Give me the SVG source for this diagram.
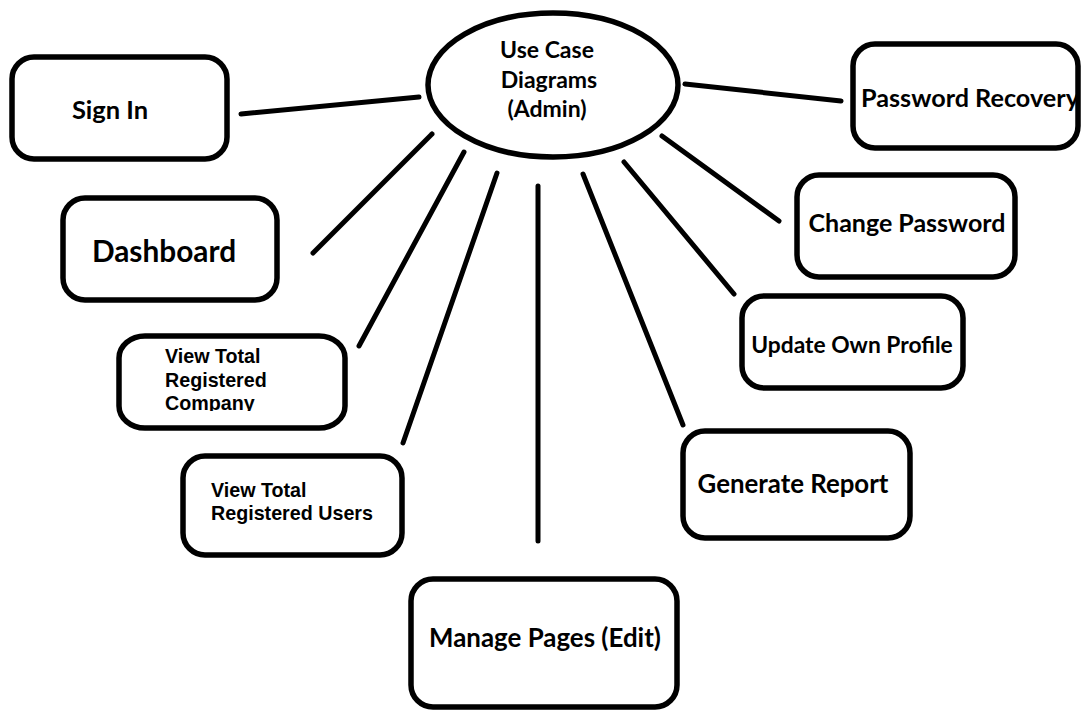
<svg xmlns="http://www.w3.org/2000/svg" width="1081" height="711" viewBox="0 0 1081 711">
<style>
.box{fill:#fff;stroke:#000;stroke-width:5.5}
.ell{fill:#fff;stroke:#000;stroke-width:5.5}
.ln{stroke:#000;stroke-width:5;stroke-linecap:round;fill:none}
.t{font-family:Lato,"Open Sans","Liberation Sans",sans-serif;font-weight:bold;fill:#000;text-anchor:middle}
.a{font-family:"Liberation Sans",Arial,sans-serif;font-weight:bold;font-size:19.7px;fill:#000}
</style>
<defs>
<clipPath id="clipCo"><rect x="120" y="330" width="230" height="81"/></clipPath>
</defs>
<rect width="1081" height="711" fill="#fff"/>
<g id="connectors">
<line class="ln" x1="241" y1="114" x2="419" y2="97"/>
<line class="ln" x1="313" y1="253" x2="432" y2="134"/>
<line class="ln" x1="359" y1="346" x2="464" y2="152"/>
<line class="ln" x1="403" y1="443" x2="497" y2="173"/>
<line class="ln" x1="538" y1="186" x2="538" y2="541"/>
<line class="ln" x1="583" y1="174" x2="683" y2="425"/>
<line class="ln" x1="624" y1="162" x2="734" y2="294"/>
<line class="ln" x1="662" y1="136" x2="779" y2="221"/>
<line class="ln" x1="685" y1="84" x2="841" y2="101"/>
</g>
<g id="center">
<ellipse class="ell" cx="553" cy="85" rx="125" ry="72"/>
<text class="t" font-size="23" x="547" y="58">Use Case</text>
<text class="t" font-size="23" x="549" y="88">Diagrams</text>
<text class="t" font-size="23" x="547" y="117">(Admin)</text>
</g>
<g id="sign-in">
<rect class="box" x="12" y="57" width="215" height="102" rx="22"/>
<text class="t" font-size="25.5" x="110" y="119">Sign In</text>
</g>
<g id="dashboard">
<rect class="box" x="63" y="198" width="214" height="102" rx="22"/>
<text class="t" font-size="29.8" x="164" y="262">Dashboard</text>
</g>
<g id="company">
<rect class="box" x="119" y="336" width="226" height="92" rx="26" ry="22"/>
<g clip-path="url(#clipCo)">
<text class="a" x="165" y="363">View Total</text>
<text class="a" x="165" y="387">Registered</text>
<text class="a" x="165" y="410">Company</text>
</g>
</g>
<g id="users">
<rect class="box" x="183" y="456" width="219" height="99" rx="22"/>
<text class="a" x="211" y="497">View Total</text>
<text class="a" x="211" y="520">Registered Users</text>
</g>
<g id="manage-pages">
<rect class="box" x="411" y="579" width="266" height="128" rx="22"/>
<text class="t" font-size="25.9" x="545" y="647">Manage Pages (Edit)</text>
</g>
<g id="generate-report">
<rect class="box" x="683" y="431" width="227" height="107" rx="22"/>
<text class="t" font-size="25.8" x="793" y="493">Generate Report</text>
</g>
<g id="update-profile">
<rect class="box" x="742" y="296" width="221" height="92" rx="22"/>
<text class="t" font-size="22.8" x="852" y="353">Update Own Profile</text>
</g>
<g id="change-password">
<rect class="box" x="797" y="175" width="218" height="102" rx="22"/>
<text class="t" font-size="25" x="907" y="232">Change Password</text>
</g>
<g id="password-recovery">
<rect class="box" x="853" y="44" width="225" height="104" rx="22"/>
<text class="t" font-size="25.2" x="970" y="107">Password Recovery</text>
</g>
</svg>
